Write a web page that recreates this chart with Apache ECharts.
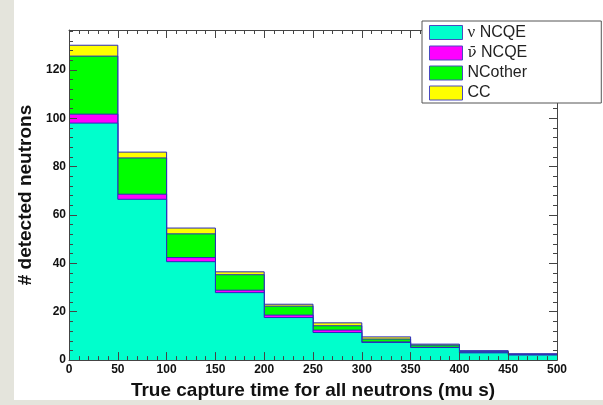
<!DOCTYPE html>
<html>
<head>
<meta charset="utf-8">
<script src="https://cdn.jsdelivr.net/npm/echarts@6/dist/echarts.min.js"></script>
<style>
  html, body { margin: 0; padding: 0; background: #ffffff; }
  #chart { width: 603px; height: 405px; }
</style>
</head>
<body>
<div id="chart"></div>
<script>
// Histogram binning: 10 bins of 50 mu s each
const binEdges = [0, 50, 100, 150, 200, 250, 300, 350, 400, 450, 500];

// Per-bin counts for each component (stacked bottom to top)
const nuNCQE     = [98.0, 66.5, 40.7, 27.9, 17.6, 11.4, 7.3, 5.2, 3.0, 2.1];
const nubarNCQE  = [3.7, 2.1, 1.7, 1.0, 1.0, 1.0, 0.2, 0.1, 0.1, 0.1];
const ncOther    = [24.0, 15.0, 9.8, 6.4, 3.7, 1.8, 1.2, 0.9, 0.5, 0.3];
const ccEvents   = [4.5, 2.4, 2.4, 1.2, 0.8, 1.2, 0.9, 0.4, 0.3, 0.1];

const seriesNames = ['ν NCQE', 'ν\u0304 NCQE', 'NCother', 'CC'];
const fillColors  = ['#00ffcc', '#ff00ff', '#00ff00', '#ffff00'];
const yTickLabels = [0, 20, 40, 60, 80, 100, 120];

const components = [nuNCQE, nubarNCQE, ncOther, ccEvents];

// Cumulative sums: layer k holds components 0..k, drawn as filled step outlines from zero
const cumulative = components.map((_, k) =>
  nuNCQE.map((__, b) => components.slice(0, k + 1).reduce((s, arr) => s + arr[b], 0))
);

// Step-histogram points: each bin value starts at its left edge, last value repeated at the right edge
function stepData(values) {
  const pts = values.map((v, i) => [binEdges[i], v]);
  pts.push([binEdges[binEdges.length - 1], values[values.length - 1]]);
  return pts;
}

const outline = '#2a2abb';
const chart = echarts.init(document.getElementById('chart'));

const labelFont = { fontFamily: 'Liberation Sans', fontWeight: 'bold', fontSize: 12, color: '#111' };
const titleFont = { fontFamily: 'Liberation Sans', fontWeight: 'bold', fontSize: 19, color: '#111' };
const axisLineStyle = { color: '#444', width: 1 };

function frameAxis(extra) {
  return Object.assign({
    z: 10,
    axisLine: { show: true, onZero: false, lineStyle: axisLineStyle },
    axisTick: { show: true, inside: true, length: 8, lineStyle: axisLineStyle },
    minorTick: { show: true, splitNumber: 5, length: 4, lineStyle: axisLineStyle },
    splitLine: { show: false }
  }, extra);
}

const option = {
  animation: false,
  backgroundColor: '#ffffff',
  graphic: [
    { type: 'rect', z: -10, shape: { x: 0, y: 0, width: 14, height: 405 }, style: { fill: '#e4e4dc' } },
    { type: 'rect', z: -10, shape: { x: 0, y: 400, width: 603, height: 5 }, style: { fill: '#e4e4dc' } }
  ],
  grid: { left: 69, right: 46, top: 30, bottom: 43.3, containLabel: false },
  legend: {
    orient: 'vertical',
    left: 422,
    top: 21,
    padding: [3, 74, 2, 7],
    itemGap: 4,
    itemWidth: 33,
    itemHeight: 14,
    backgroundColor: '#ffffff',
    borderColor: '#555',
    borderWidth: 1,
    borderRadius: 0,
    z: 20,
    textStyle: {
      fontFamily: 'Liberation Sans', fontSize: 16, color: '#222',
      rich: {
        g: { fontFamily: 'Liberation Serif', fontSize: 17, color: '#222' },
        gb: { fontFamily: 'DejaVu Serif', fontSize: 15, color: '#222' },
        t: { fontFamily: 'Liberation Sans', fontSize: 16, color: '#222' }
      }
    },
    formatter: function (name) {
      const m = name.match(/^(ν)(\u0304?) (.*)$/);
      if (!m) return name;
      return (m[2] ? '{gb|' + m[1] + m[2] + '}' : '{g|' + m[1] + '}') + '{t| ' + m[3] + '}';
    },
    data: seriesNames.map((n, i) => ({
      name: n,
      icon: 'rect',
      itemStyle: { color: fillColors[i], borderColor: '#4a4ac0', borderWidth: 1 }
    }))
  },
  xAxis: [
    frameAxis({
      type: 'value', position: 'bottom', min: 0, max: 500, interval: 50,
      name: 'True capture time for all neutrons (mu s)',
      nameLocation: 'middle', nameGap: 19,
      nameTextStyle: titleFont,
      axisLabel: Object.assign({ margin: 4, showMinLabel: true, showMaxLabel: true }, labelFont)
    }),
    frameAxis({
      type: 'value', position: 'top', min: 0, max: 500, interval: 50,
      axisLabel: { show: false }
    })
  ],
  yAxis: [
    frameAxis({
      type: 'value', position: 'left', min: 0, max: 136.5, interval: 20,
      name: '# detected neutrons',
      nameLocation: 'middle', nameGap: 33,
      nameTextStyle: titleFont,
      axisLabel: Object.assign({
        margin: 3, showMaxLabel: false,
        formatter: v => (yTickLabels.indexOf(v) >= 0 ? String(v) : '')
      }, labelFont)
    }),
    frameAxis({
      type: 'value', position: 'right', min: 0, max: 136.5, interval: 20,
      axisLabel: { show: false }
    })
  ],
  // Largest cumulative layer first, smaller layers painted over it
  series: cumulative.map((vals, k) => ({
    name: seriesNames[k],
    type: 'line',
    step: 'end',
    xAxisIndex: 0,
    yAxisIndex: 0,
    symbol: 'none',
    z: 2 + (cumulative.length - k),
    data: stepData(vals),
    lineStyle: { color: outline, width: 1 },
    itemStyle: { color: fillColors[k] },
    areaStyle: { color: fillColors[k], opacity: 1, origin: 'start' }
  }))
};

chart.setOption(option);
</script>
</body>
</html>
